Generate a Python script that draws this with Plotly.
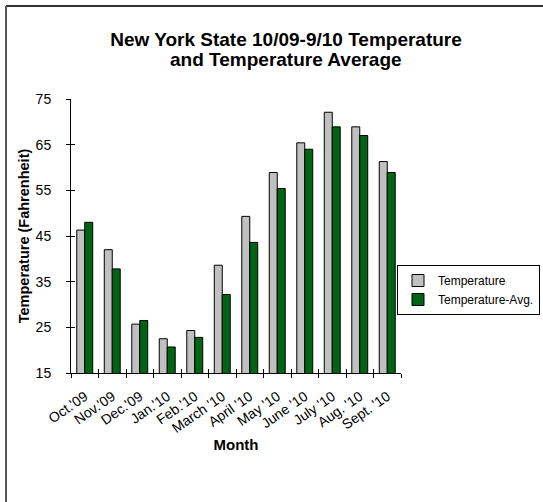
import plotly.graph_objects as go

months = ["Oct.'09", "Nov.'09", "Dec.'09", "Jan.'10", "Feb.'10", "March '10",
          "April '10", "May '10", "June '10", "July '10", "Aug. '10", "Sept. '10"]
temperature = [46.3, 42.0, 25.7, 22.5, 24.3, 38.6, 49.3, 58.9, 65.4, 72.1, 68.9, 61.3]
temperature_avg = [48.0, 37.8, 26.5, 20.7, 22.8, 32.2, 43.6, 55.4, 64.0, 68.9, 67.0, 58.9]
y_ticks = [15, 25, 35, 45, 55, 65, 75]

FONT = "Arial, 'Liberation Sans', sans-serif"
W, H = 543, 502
ML, MR, MT, MB = 71, 142, 99, 129

fig = go.Figure()
fig.add_trace(go.Bar(x=months, y=temperature, name="Temperature",
                     marker=dict(color="#C0C0C0", line=dict(color="#000000", width=1))))
fig.add_trace(go.Bar(x=months, y=temperature_avg, name="Temperature-Avg.",
                     marker=dict(color="#006414", line=dict(color="#000000", width=1))))

pw = W - ML - MR
ph = H - MT - MB
def px_x(p):
    return (p - ML) / pw
def px_y(p):
    return (H - MB - p) / ph

fig.update_layout(
    width=W, height=H,
    margin=dict(l=ML, r=MR, t=MT, b=MB, pad=0, autoexpand=False),
    paper_bgcolor="white", plot_bgcolor="white",
    font=dict(family=FONT, size=13, color="black"),
    barmode="group", bargap=0.42, bargroupgap=0,
    title=dict(text="<b>New York State 10/09-9/10 Temperature</b>",
               x=286 / W, xanchor="center", xref="container",
               y=1 - 39 / H, yanchor="middle", yref="container",
               font=dict(family=FONT, size=19, color="black")),
    annotations=[
        dict(text="<b>and Temperature Average</b>", showarrow=False,
             xref="paper", yref="paper", x=px_x(286), y=px_y(60),
             xanchor="center", yanchor="middle",
             font=dict(family=FONT, size=19, color="black")),
    ],
    showlegend=True,
    legend=dict(x=px_x(397), xanchor="left", y=px_y(265), yanchor="top",
                bordercolor="black", borderwidth=1, bgcolor="white",
                font=dict(family=FONT, size=12, color="black"),
                tracegroupgap=0),
    xaxis=dict(showline=True, linecolor="black", linewidth=1, automargin=False,
               ticks="outside", ticklen=4, tickcolor="black", tickson="boundaries",
               tickangle=-35, tickfont=dict(family=FONT, size=14), ticklabelstandoff=9,
               showgrid=False, zeroline=False,
               title=dict(text="<b>Month</b>", font=dict(family=FONT, size=15), standoff=2)),
    yaxis=dict(range=[15, 75], tickvals=y_ticks, showline=True, linecolor="black", linewidth=1,
               automargin=False,
               ticks="outside", ticklen=4, tickcolor="black", showgrid=False, zeroline=False,
               ticklabelstandoff=12, tickfont=dict(family=FONT, size=14),
               title=dict(text="<b>Temperature (Fahrenheit)</b>", font=dict(family=FONT, size=14.5),
                          standoff=2)),
    yaxis2=dict(range=[15, 75], tickvals=y_ticks, overlaying="y", side="left", automargin=False,
                showline=False, ticks="inside", ticklen=4, tickcolor="black",
                showticklabels=False, showgrid=False, zeroline=False),
    xaxis2=dict(range=[-0.5, len(months) - 0.5], overlaying="x", side="bottom", automargin=False,
                tickvals=[i - 0.5 for i in range(len(months) + 1)],
                showline=False, ticks="inside", ticklen=4, tickcolor="black",
                showticklabels=False, showgrid=False, zeroline=False),
    shapes=[
        dict(type="line", xref="paper", yref="paper",
             x0=px_x(6), x1=px_x(W), y0=px_y(6), y1=px_y(6),
             line=dict(color="#333333", width=2)),
        dict(type="line", xref="paper", yref="paper",
             x0=px_x(6), x1=px_x(6), y0=px_y(6), y1=px_y(H),
             line=dict(color="#555555", width=2)),
    ],
)
# invisible trace so the overlay tick axes are drawn
fig.add_trace(go.Scatter(x=[0], y=[15], xaxis="x2", yaxis="y2", mode="markers",
                         marker=dict(opacity=0), showlegend=False, hoverinfo="skip"))

fig.write_html("out.html", config={"displayModeBar": False},
               post_script="document.body.style.margin='0';document.body.style.overflow='hidden';")
